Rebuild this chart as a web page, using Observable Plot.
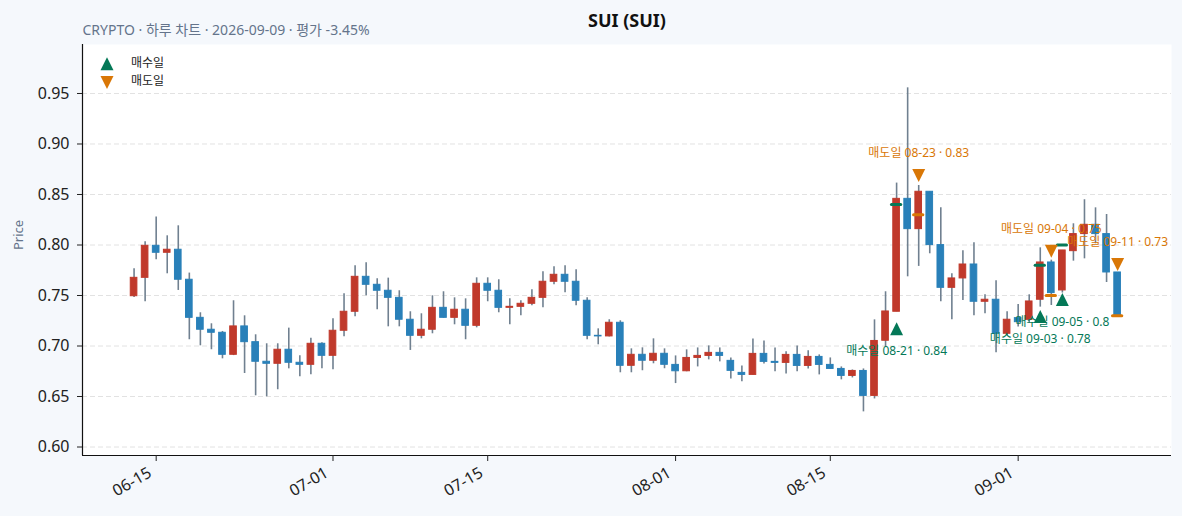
<!DOCTYPE html>
<html>
<head>
<meta charset="utf-8">
<script src="https://cdn.jsdelivr.net/npm/d3@7"></script>
<script src="https://cdn.jsdelivr.net/npm/@observablehq/plot@0.6"></script>
<style>
  html, body { margin: 0; padding: 0; background: #f5f8fc; }
  #chart svg { display: block; }
</style>
</head>
<body>
<div id="chart"></div>
<script>
// ---------- data ----------
const title = "SUI (SUI)";
const subtitle = "CRYPTO · 하루 차트 · 2026-09-09 · 평가 -3.45%";
const yLabel = "Price";
const firstDay = "2026-06-13";
const lastDay = "2026-09-10";

const open = [
  0.7493, 0.7675, 0.7992, 0.7923, 0.7953, 0.7656, 0.7279, 0.7161, 0.7131, 0.6913,
  0.7194, 0.7038, 0.6844, 0.6824, 0.6963, 0.6834, 0.6814, 0.7022, 0.6903, 0.7151,
  0.7339, 0.7685, 0.7606, 0.7547, 0.7477, 0.7260, 0.7101, 0.7161, 0.7378, 0.7279,
  0.7359, 0.7200, 0.7616, 0.7547, 0.7378, 0.7388, 0.7418, 0.7477, 0.7636, 0.7705,
  0.7636, 0.7448, 0.7101, 0.7095, 0.7230, 0.6804, 0.6913, 0.6854, 0.6923, 0.6813,
  0.6750, 0.6882, 0.6902, 0.6932, 0.6853, 0.6734, 0.6714, 0.6922, 0.6843, 0.6833,
  0.6912, 0.6803, 0.6892, 0.6813, 0.6773, 0.6704, 0.6753, 0.6506, 0.7052, 0.7339,
  0.8457, 0.8157, 0.8527, 0.7999, 0.7576, 0.7669, 0.7807, 0.7438, 0.7458, 0.7121,
  0.7276, 0.7259, 0.7458, 0.7827, 0.7550, 0.7939, 0.8108, 0.8200, 0.8108, 0.7728
];
const high = [
  0.7764, 0.8032, 0.8276, 0.8091, 0.8190, 0.7722, 0.7329, 0.7220, 0.7144, 0.7448,
  0.7299, 0.7111, 0.7022, 0.7022, 0.7177, 0.6903, 0.7078, 0.7032, 0.7269, 0.7517,
  0.7794, 0.7824, 0.7665, 0.7672, 0.7547, 0.7339, 0.7319, 0.7497, 0.7537, 0.7477,
  0.7467, 0.7675, 0.7675, 0.7656, 0.7467, 0.7448, 0.7557, 0.7735, 0.7784, 0.7794,
  0.7755, 0.7477, 0.7170, 0.7260, 0.7250, 0.6972, 0.6982, 0.7071, 0.6972, 0.6902,
  0.6962, 0.6981, 0.7001, 0.6981, 0.6882, 0.6803, 0.7070, 0.7050, 0.6981, 0.6942,
  0.7001, 0.6952, 0.6912, 0.6882, 0.6793, 0.6763, 0.6773, 0.7259, 0.7537, 0.8613,
  0.9556, 0.8589, 0.8527, 0.8368, 0.7715, 0.7943, 0.8022, 0.7507, 0.7646, 0.7339,
  0.7411, 0.7507, 0.7972, 0.7850, 0.7946, 0.8210, 0.8448, 0.8368, 0.8302, 0.7728
];
const low = [
  0.7480, 0.7438, 0.7854, 0.7715, 0.7550, 0.7062, 0.7002, 0.6963, 0.6873, 0.6905,
  0.6728, 0.6507, 0.6497, 0.6567, 0.6774, 0.6695, 0.6715, 0.6774, 0.6765, 0.7091,
  0.7289, 0.7497, 0.7359, 0.7190, 0.7190, 0.6956, 0.7071, 0.7121, 0.7275, 0.7210,
  0.7062, 0.7180, 0.7438, 0.7329, 0.7210, 0.7299, 0.7398, 0.7378, 0.7606, 0.7527,
  0.7398, 0.7062, 0.7012, 0.7090, 0.6735, 0.6735, 0.6755, 0.6824, 0.6775, 0.6628,
  0.6745, 0.6793, 0.6863, 0.6843, 0.6674, 0.6645, 0.6714, 0.6823, 0.6744, 0.6724,
  0.6744, 0.6773, 0.6714, 0.6770, 0.6665, 0.6684, 0.6348, 0.6476, 0.6989, 0.7339,
  0.7685, 0.7788, 0.7913, 0.7438, 0.7260, 0.7451, 0.7299, 0.7319, 0.6933, 0.7101,
  0.7187, 0.7226, 0.7385, 0.7401, 0.7524, 0.7840, 0.7863, 0.8012, 0.7629, 0.7299
];
const close = [
  0.7675, 0.7992, 0.7923, 0.7953, 0.7656, 0.7279, 0.7161, 0.7131, 0.6913, 0.7194,
  0.7038, 0.6844, 0.6824, 0.6963, 0.6834, 0.6814, 0.7022, 0.6903, 0.7151, 0.7339,
  0.7685, 0.7606, 0.7547, 0.7477, 0.7260, 0.7101, 0.7161, 0.7378, 0.7279, 0.7359,
  0.7200, 0.7616, 0.7547, 0.7378, 0.7388, 0.7418, 0.7477, 0.7636, 0.7705, 0.7636,
  0.7448, 0.7101, 0.7095, 0.7230, 0.6804, 0.6913, 0.6854, 0.6923, 0.6814, 0.6750,
  0.6882, 0.6902, 0.6932, 0.6902, 0.6754, 0.6714, 0.6922, 0.6843, 0.6833, 0.6912,
  0.6803, 0.6892, 0.6813, 0.6773, 0.6704, 0.6753, 0.6506, 0.7050, 0.7342, 0.8457,
  0.8157, 0.8527, 0.7999, 0.7576, 0.7669, 0.7807, 0.7438, 0.7458, 0.7121, 0.7260,
  0.7236, 0.7441, 0.7827, 0.7524, 0.7946, 0.8108, 0.8200, 0.8108, 0.7728, 0.7299
];

const yTicks = [0.60, 0.65, 0.70, 0.75, 0.80, 0.85, 0.90, 0.95];
const xTickDates = ["2026-06-15", "2026-07-01", "2026-07-15", "2026-08-01", "2026-08-15", "2026-09-01"];

const buyDates = ["2026-08-21", "2026-09-03", "2026-09-05"];
const buyLabelDates = ["08-21", "09-03", "09-05"];
const buyPrices = [0.84, 0.78, 0.8];
const buyMarkerLevels = [0.717, 0.7292, 0.746];

const sellDates = ["2026-08-23", "2026-09-04", "2026-09-10"];
const sellLabelDates = ["08-23", "09-04", "09-11"];
const sellPrices = [0.83, 0.75, 0.73];
const sellMarkerLevels = [0.8688, 0.7939, 0.7807];

const legendLabels = ["매수일", "매도일"];

// ---------- styles ----------
const upColor = "#c0392b";
const downColor = "#2980b9";
const wickColor = "#708090";
const buyColor = "#047857";
const sellColor = "#d97706";
const mutedColor = "#64748b";
const DAY = 864e5;

// ---------- build tables ----------
const days = d3.utcDay.range(new Date(firstDay), d3.utcDay.offset(new Date(lastDay), 1));
const candles = days.map((date, i) => ({
  date, open: open[i], high: high[i], low: low[i], close: close[i]
}));
const buys = buyDates.map((d, i) => ({
  date: new Date(d), price: buyPrices[i], level: buyMarkerLevels[i],
  label: `${legendLabels[0]} ${buyLabelDates[i]} · ${String(buyPrices[i])}`
}));
const sells = sellDates.map((d, i) => ({
  date: new Date(d), price: sellPrices[i], level: sellMarkerLevels[i],
  label: `${legendLabels[1]} ${sellLabelDates[i]} · ${String(sellPrices[i])}`
}));

const triUp = {draw(ctx, size) {
  const s = Math.sqrt(size) / 2;
  ctx.moveTo(0, -s); ctx.lineTo(s, s); ctx.lineTo(-s, s); ctx.closePath();
}};
const triDown = {draw(ctx, size) {
  const s = Math.sqrt(size) / 2;
  ctx.moveTo(0, s); ctx.lineTo(s, -s); ctx.lineTo(-s, -s); ctx.closePath();
}};

const xDomain = [new Date("2026-06-08T08:00:00Z"), new Date("2026-09-14T21:00:00Z")];
const yDomain = [0.5916, 0.9985];
const bodyHalf = 0.30 * DAY;
const dashHalf = 0.42 * DAY;
const markerR = 7.3;

const chart = Plot.plot({
  width: 1182,
  height: 516,
  marginLeft: 82,
  marginRight: 11,
  marginTop: 44,
  marginBottom: 61,
  style: {
    background: "#f5f8fc",
    fontFamily: "'Noto Sans', 'Noto Sans CJK KR', sans-serif",
    color: "#222"
  },
  x: {type: "utc", domain: xDomain},
  y: {domain: yDomain},
  marks: [
    Plot.frame({fill: "white", stroke: null}),
    Plot.gridY(yTicks, {stroke: "#e2e2e2", strokeOpacity: 1, strokeDasharray: "5,3", strokeWidth: 1}),
    // wicks
    Plot.ruleX(candles, {x: "date", y1: "low", y2: "high", stroke: wickColor, strokeWidth: 1.6}),
    // bodies
    Plot.rect(candles, {
      x1: d => new Date(+d.date - bodyHalf),
      x2: d => new Date(+d.date + bodyHalf),
      y1: "open", y2: "close",
      fill: d => d.close >= d.open ? upColor : downColor,
      stroke: d => d.close >= d.open ? upColor : downColor,
      strokeWidth: 1
    }),
    // trade price dashes
    Plot.ruleY(buys, {
      y: "price",
      x1: d => new Date(+d.date - dashHalf), x2: d => new Date(+d.date + dashHalf),
      stroke: buyColor, strokeWidth: 3, strokeLinecap: "round"
    }),
    Plot.ruleY(sells, {
      y: "price",
      x1: d => new Date(+d.date - dashHalf), x2: d => new Date(+d.date + dashHalf),
      stroke: sellColor, strokeWidth: 3, strokeLinecap: "round"
    }),
    // markers
    Plot.dot(buys, {x: "date", y: "level", symbol: triUp, r: markerR, fill: buyColor, stroke: "none"}),
    Plot.dot(sells, {x: "date", y: "level", symbol: triDown, r: markerR, fill: sellColor, stroke: "none"}),
    // labels
    Plot.text(buys, {x: "date", y: "level", text: "label", dy: 22.5, fill: buyColor, fontSize: 12, lineAnchor: "middle"}),
    Plot.text(sells, {x: "date", y: "level", text: "label", dy: -22.5, fill: sellColor, fontSize: 12, lineAnchor: "middle"}),
    // spines
    Plot.ruleX([xDomain[0]], {stroke: "#111", strokeWidth: 1.2}),
    Plot.ruleY([yDomain[0]], {stroke: "#111", strokeWidth: 1.2}),
    // axes
    Plot.axisY(yTicks, {
      tickSize: 5, tickPadding: 8, fontSize: 16,
      tickFormat: d3.format(".2f"), label: null
    }),
    Plot.axisX(xTickDates.map(d => new Date(d)), {
      tickSize: 6, label: null, text: null
    }),
    Plot.axisX(xTickDates.map(d => new Date(d)), {
      tickSize: 0, tickPadding: 16, dx: -6, fontSize: 16, tickRotate: -30,
      tickFormat: d3.utcFormat("%m-%d"), label: null
    }),
    // y label
    Plot.text([yLabel], {frameAnchor: "left", dx: -64, rotate: -90, fill: mutedColor, fontSize: 13, lineAnchor: "middle"}),
    // title + subtitle
    Plot.text([title], {frameAnchor: "top", dy: -23, fontSize: 18, fontWeight: "bold", fill: "#111", lineAnchor: "middle"}),
    Plot.text([subtitle], {frameAnchor: "top-left", dy: -13.5, textAnchor: "start", fontSize: 14, fill: mutedColor, lineAnchor: "middle"}),
    // legend
    Plot.dot([legendLabels[0]], {frameAnchor: "top-left", dx: 24.5, dy: 19.3, symbol: triUp, r: markerR, fill: buyColor}),
    Plot.dot([legendLabels[1]], {frameAnchor: "top-left", dx: 24.5, dy: 38, symbol: triDown, r: markerR, fill: sellColor}),
    Plot.text([legendLabels[0]], {frameAnchor: "top-left", dx: 48.5, dy: 18.2, textAnchor: "start", fontSize: 12, fill: "#222", lineAnchor: "middle"}),
    Plot.text([legendLabels[1]], {frameAnchor: "top-left", dx: 48.5, dy: 36.7, textAnchor: "start", fontSize: 12, fill: "#222", lineAnchor: "middle"})
  ]
});

document.getElementById("chart").appendChild(chart);
</script>
</body>
</html>
